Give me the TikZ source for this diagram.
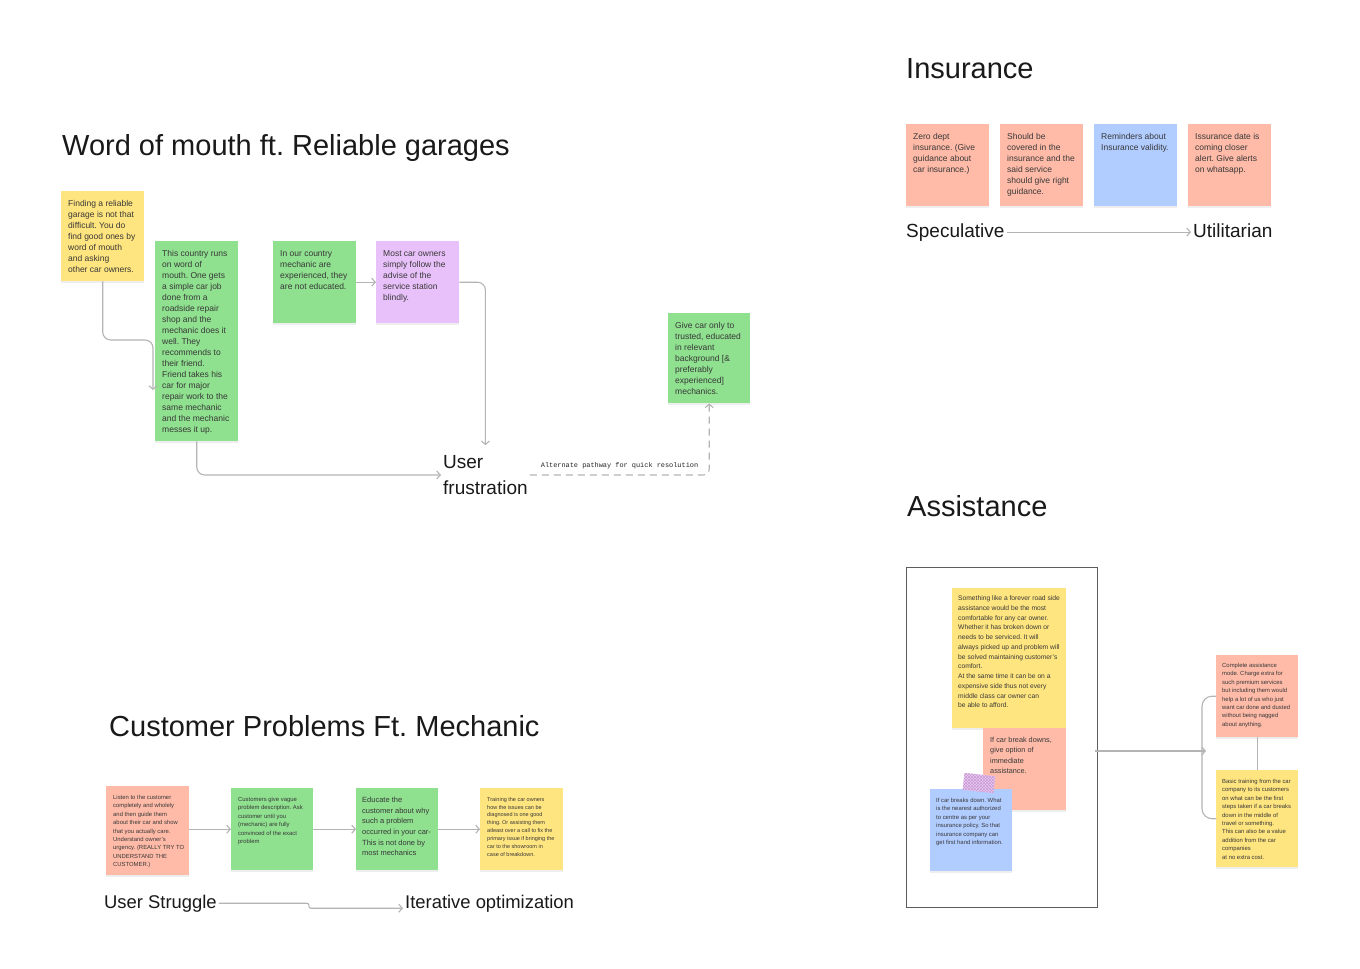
\documentclass[tikz,border=0pt]{standalone}
\usepackage{fontspec}
\setmainfont{Liberation Sans}
\setmonofont{Liberation Mono}
\usetikzlibrary{positioning,arrows.meta,shadows,patterns}
\frenchspacing

\definecolor{stickyyellow}{HTML}{FFE57F}
\definecolor{stickygreen}{HTML}{8FE08F}
\definecolor{stickypurple}{HTML}{E9C1FA}
\definecolor{stickysalmon}{HTML}{FFBBA8}
\definecolor{stickyblue}{HTML}{B1CCFF}
\definecolor{tapelilac}{HTML}{E6CCFA}
\definecolor{inkgrey}{HTML}{383838}
\definecolor{linegrey}{HTML}{B4B4B4}
\definecolor{framegrey}{HTML}{5C5C5C}

\begin{document}
\begin{tikzpicture}[x=1pt,y=-1pt,
  sticky/.style={fill=#1, anchor=north west, inner sep=0pt, drop shadow={opacity=0.13, shadow xshift=0pt, shadow yshift=-1.5pt}},
  sq/.style={minimum width=83, minimum height=82},
  jot/.style={anchor=north west, inner sep=0pt, align=left, text=inkgrey},
  bigjot/.style={jot, font=\fontsize{8.5}{11}\selectfont},
  tinyjot/.style={jot, font=\fontsize{5.9}{8.4}\selectfont},
  title/.style={anchor=base west, inner sep=0pt, font=\fontsize{29}{34}\selectfont, text=black!90},
  sub/.style={anchor=base west, inner sep=2pt, font=\fontsize{19}{26}\selectfont, text=black!90},
  wire/.style={draw=linegrey, line width=1.1pt, rounded corners=8pt},
  conn/.style={wire, -{Straight Barb[length=3.5pt,width=8pt]}},
  tape/.style={fill=tapelilac, minimum width=31, minimum height=17, inner sep=0pt, postaction={pattern=crosshatch, pattern color=violet!40}}]
\useasboundingbox[fill=white] (0,0) rectangle (1360,969);

% word of mouth
\node[title] (wordtitle) at (62,155) {Word of mouth ft. Reliable garages};
\node[sticky=stickyyellow, minimum width=83, minimum height=90] (reliable) at (61,191) {};
\node[bigjot, below right=9pt and 7pt of reliable.north west] (reliable-txt) {Finding a reliable\\garage is not that\\difficult. You do\\find good ones by\\word of mouth\\and asking\\other car owners.};
\node[sticky=stickygreen, minimum width=83, minimum height=200] (country) at (155,241) {};
\node[bigjot, below right=9pt and 7pt of country.north west] (country-txt) {This country runs\\on word of\\mouth. One gets\\a simple car job\\done from a\\roadside repair\\shop and the\\mechanic does it\\well. They\\recommends to\\their friend.\\Friend takes his\\car for major\\repair work to the\\same mechanic\\and the mechanic\\messes it up.};
\node[sticky=stickygreen, sq] (experienced) at (273,241) {};
\node[bigjot, below right=9pt and 7pt of experienced.north west] (experienced-txt) {In our country\\mechanic are\\experienced, they\\are not educated.};
\node[sticky=stickypurple, sq] (owners) at (376,241) {};
\node[bigjot, below right=9pt and 7pt of owners.north west] (owners-txt) {Most car owners\\simply follow the\\advise of the\\service station\\blindly.};
\node[sticky=stickygreen, minimum width=82, minimum height=90] (trusted) at (668,313) {};
\node[bigjot, below right=9pt and 7pt of trusted.north west] (trusted-txt) {Give car only to\\trusted, educated\\in relevant\\background [\&\\preferably\\experienced]\\mechanics.};
\node[sub, anchor=west, align=left] (frustration) at (441,475) {User\\frustration};
\coordinate (countryin) at (153,390);

\draw[conn] (reliable.south) |- (153,340) -- (countryin);
\draw[conn] (country.south) |- (frustration.west);
\draw[conn] (experienced.east) -- (owners.west);
\draw[conn, shorten >=8pt] (owners.east) -| (frustration.north);
\draw[conn, rounded corners=6pt, dash pattern=on 7pt off 5pt] (frustration.east) -| node[pos=0.25, above=6pt, inner sep=0pt, text=black!85, font=\ttfamily\fontsize{6.9}{8}\selectfont] (althint) {Alternate pathway for quick resolution} (trusted.south);

% insurance
\node[title] (insurtitle) at (906,78) {Insurance};
\node[sticky=stickysalmon, sq] (zerodept) at (906,124) {};
\node[bigjot, below right=9pt and 7pt of zerodept.north west] (zerodept-txt) {Zero dept\\insurance. (Give\\guidance about\\car insurance.)};
\node[sticky=stickysalmon, sq] (covered) at (1000,124) {};
\node[bigjot, below right=9pt and 7pt of covered.north west] (covered-txt) {Should be\\covered in the\\insurance and the\\said service\\should give right\\guidance.};
\node[sticky=stickyblue, sq] (reminders) at (1094,124) {};
\node[bigjot, below right=9pt and 7pt of reminders.north west] (reminders-txt) {Reminders about\\Insurance validity.};
\node[sticky=stickysalmon, sq] (alerts) at (1188,124) {};
\node[bigjot, below right=9pt and 7pt of alerts.north west] (alerts-txt) {Issurance date is\\coming closer\\alert. Give alerts\\on whatsapp.};
\node[sub] (speculative) at (904,237) {Speculative};
\node[sub] (utilitarian) at (1191,237) {Utilitarian};
\draw[conn] (speculative.east) -- (speculative.east -| utilitarian.west);

% assistance
\node[title] (assisttitle) at (907,516) {Assistance};
\node[draw=framegrey, line width=0.9pt, anchor=north west, inner sep=0pt, minimum width=191, minimum height=340] (assistframe) at (906,567) {};
\node[sticky=stickyyellow, minimum width=114, minimum height=140] (roadside) at (952,588) {};
\node[jot, font=\fontsize{6.7}{9.75}\selectfont, below right=7.5pt and 6pt of roadside.north west] (roadside-txt) {Something like a forever road side\\assistance would be the most\\comfortable for any car owner.\\Whether it has broken down or\\needs to be serviced. It will\\always picked up and problem will\\be solved maintaining customer's\\comfort.\\At the same time it can be on a\\expensive side thus not every\\middle class car owner can\\be able to afford.};
\node[sticky=stickysalmon, sq] (breakdown) at (983,728) {};
\node[jot, font=\fontsize{7.3}{10.4}\selectfont, below right=9pt and 7pt of breakdown.north west] (breakdown-txt) {If car break downs,\\give option of\\immediate\\assistance.};
\node[sticky=stickyblue, minimum width=82, minimum height=82] (nearest) at (930,789) {};
\node[tinyjot, below right=9pt and 6pt of nearest.north west] (nearest-txt) {If car breaks down. What\\is the nearest authorized\\to centre as per your\\insurance policy. So that\\insurance company can\\get first hand information.};
\node[tape, rotate=-6] (tape) at (979,783) {};

\node[sticky=stickysalmon, minimum width=82, minimum height=82] (premium) at (1216,655) {};
\node[tinyjot, below right=8pt and 6pt of premium.north west] (premium-txt) {Complete assistance\\mode. Charge extra for\\such premium services\\but including them would\\help a lot of us who just\\want car done and dusted\\without being nagged\\about anything.};
\node[sticky=stickyyellow, minimum width=82, minimum height=97] (basictraining) at (1216,770) {};
\node[tinyjot, below right=9pt and 6pt of basictraining.north west] (basictraining-txt) {Basic training from the car\\company to its customers\\on what can be the first\\steps taken if a car breaks\\down in the middle of\\travel or something.\\This can also be a value\\addition from the car\\companies\\at no extra cost.};
\coordinate (brace) at (1202,751);

\draw[wire, rounded corners=10pt] (premium.west) -| (brace) |- (basictraining.west);
\draw[conn] ([xshift=-3pt]assistframe.east |- brace) -- ([xshift=4pt]brace);
\draw[wire] (premium.south) -- (basictraining.north);

% customer problems
\node[title] (custtitle) at (109,736) {Customer Problems Ft. Mechanic};
\node[sticky=stickysalmon, minimum width=83, minimum height=89] (listen) at (106,786) {};
\node[tinyjot, below right=9pt and 7pt of listen.north west] (listen-txt) {Listen to the customer\\completely and wholely\\and then guide them\\about their car and show\\that you actually care.\\Understand owner's\\urgency. (REALLY TRY TO\\UNDERSTAND THE\\CUSTOMER.)};
\node[sticky=stickygreen, minimum width=82, minimum height=82] (vague) at (231,788) {};
\node[tinyjot, below right=9pt and 7pt of vague.north west] (vague-txt) {Customers give vague\\problem description. Ask\\customer until you\\(mechanic) are fully\\convinced of the exact\\problem};
\node[sticky=stickygreen, minimum width=82, minimum height=82] (educate) at (356,788) {};
\node[jot, font=\fontsize{7.5}{10.6}\selectfont, below right=9pt and 6pt of educate.north west] (educate-txt) {Educate the\\customer about why\\such a problem\\occurred in your car-\\This is not done by\\most mechanics};
\node[sticky=stickyyellow, sq] (trainowners) at (480,788) {};
\node[jot, font=\fontsize{5.5}{7.9}\selectfont, below right=9pt and 7pt of trainowners.north west] (trainowners-txt) {Training the car owners\\how the issues can be\\diagnosed is one good\\thing. Or assisting them\\atleast over a call to fix the\\primary issue if bringing the\\car to the showroom in\\case of breakdown.};
\node[sub, font=\fontsize{18.4}{24}\selectfont] (struggle) at (102,908) {User Struggle};
\node[sub, font=\fontsize{18.4}{24}\selectfont] (iterative) at (403,908) {Iterative optimization};

\draw[conn] (listen.east |- vague.west) -- (vague.west);
\draw[conn] (vague.east) -- (educate.west);
\draw[conn] (educate.east) -- (trainowners.west);
\draw[conn, rounded corners=2pt] (struggle.east) -- ++(90,0) |- ([yshift=-5pt]iterative.west);
\end{tikzpicture}
\end{document}
